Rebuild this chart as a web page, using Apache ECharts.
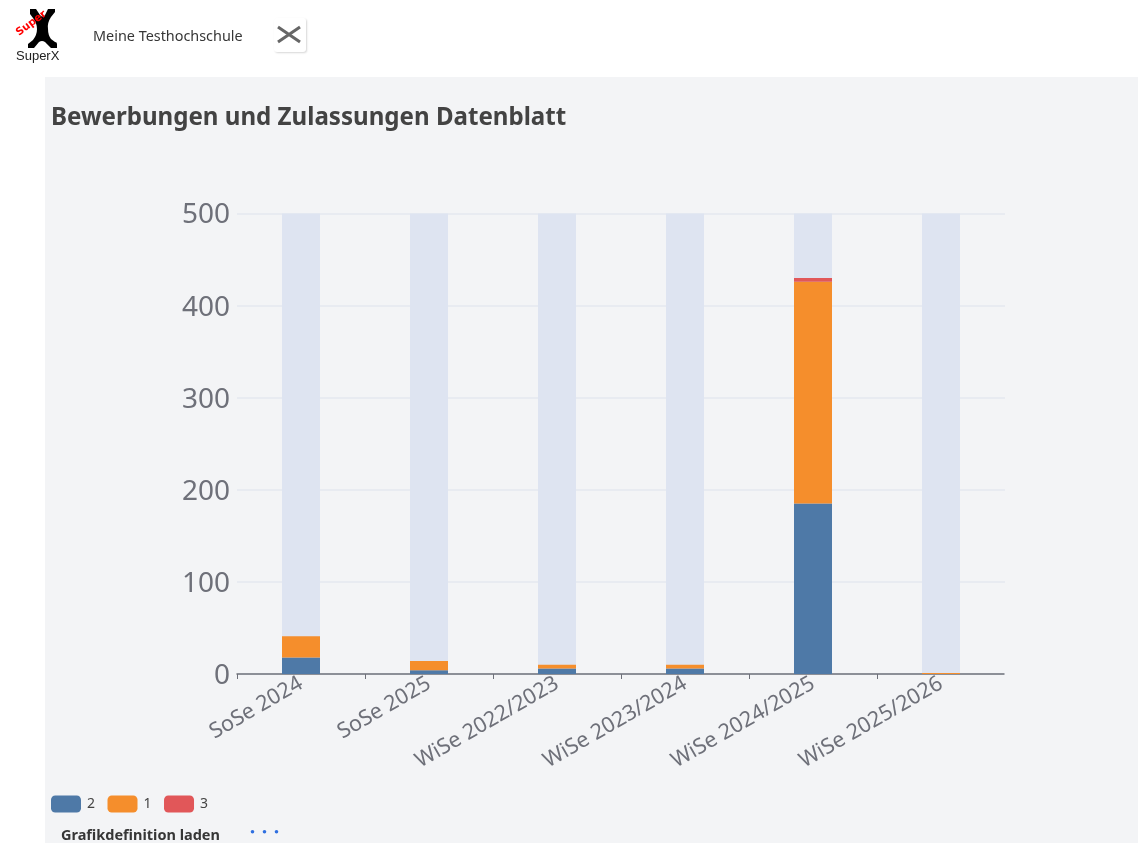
<!DOCTYPE html>
<html><head><meta charset="utf-8">
<script src="https://cdn.jsdelivr.net/npm/echarts@6/dist/echarts.min.js"></script>
<style>
html,body{margin:0;padding:0;background:#fff;overflow:hidden;font-family:"Noto Sans",sans-serif}
#panel{position:absolute;left:45px;top:77px;width:1093px;height:766px;background:#f3f4f6}
#chart{position:absolute;left:0;top:0;width:1138px;height:843px}
#school{position:absolute;left:93px;top:26px;font-size:14.4px;line-height:19px;color:#363636}
#btn{position:absolute;left:274px;top:18px;width:32px;height:34px;background:#fff;border-radius:3px;box-shadow:1px 1px 2px rgba(0,0,0,.16)}
#logo{position:absolute;left:15px;top:7px}
#load{position:absolute;left:61px;top:825px;font-size:14.5px;line-height:19px;font-weight:700;color:#363636}
#dots{position:absolute;left:250px;top:829px;width:30px;height:6px}
</style></head><body>
<div id="panel"></div>
<div id="chart"></div>
<svg id="logo" width="48" height="58" viewBox="0 0 48 58">
<path d="M15 2h6l4 6q3 3 5 0l3-6h7v3l-4 5q-4 6-3 12q0 6 3 10l4 3q2 0 2 2v4h-6l-6-6q-3-2-6 0l-5 6h-6v-4l5-4q4-5 4-11q0-6-4-11l-3-4z" fill="#000"/>
<text transform="translate(4,29) rotate(-37)" font-family="DejaVu Sans" font-weight="700" font-size="10.5" fill="#f00">Super</text>
<text x="1" y="53" font-family="Liberation Sans" font-size="13" fill="#222">SuperX</text>
</svg>
<div id="school">Meine Testhochschule</div>
<div id="btn"><svg width="32" height="34" viewBox="0 0 32 34"><path d="M4 9l22 15M4 24l22-15" stroke="#666" stroke-width="3" fill="none"/></svg></div>
<div id="load">Grafikdefinition laden</div>
<svg id="dots" viewBox="0 0 30 6"><circle cx="2.5" cy="2.7" r="1.8" fill="#2f6fe0"/><circle cx="14.5" cy="2.7" r="1.8" fill="#2f6fe0"/><circle cx="26.5" cy="2.7" r="1.8" fill="#2f6fe0"/></svg>
<script>
const categories = ["SoSe 2024","SoSe 2025","WiSe 2022/2023","WiSe 2023/2024","WiSe 2024/2025","WiSe 2025/2026"];
const seriesNames = ["2","1","3"];
const values2 = [18,4,6,6,185,0];
const values1 = [23,10,4,4,241,1];
const values3 = [0,0,0,0,4,0];
const yTicks = [0,100,200,300,400,500];
const colors = ["#4e79a7","#f58e2c","#e15759"];
const chart = echarts.init(document.getElementById('chart'), null, {renderer:'canvas'});
const F = '"Noto Sans", sans-serif';
function ser(name, data, color, bg){
  return {name, type:'bar', stack:'t', data, barWidth:38, itemStyle:{color},
    showBackground:bg, backgroundStyle:{color:'#dee4f1'}};
}
chart.setOption({
  animation:false,
  backgroundColor:'transparent',
  title:{text:'Bewerbungen und Zulassungen Datenblatt', left:46, top:101,
    textStyle:{fontFamily:F, fontSize:24.1, fontWeight:700, color:'#434343'}},
  grid:{left:237, right:133, top:213.5, bottom:169, containLabel:false},
  legend:{left:46, top:790.5, itemWidth:30, itemHeight:17, itemGap:12.5, icon:'roundRect',
    data:seriesNames, textStyle:{fontFamily:F, fontSize:14, color:'#444', padding:[0,0,0,1]}},
  xAxis:{type:'category', data:categories, z:1,
    axisLine:{lineStyle:{color:'#6e7079', width:1.5}},
    axisTick:{show:true, alignWithLabel:false, length:5, lineStyle:{color:'#6e7079'}},
    axisLabel:{rotate:30, fontFamily:F, fontSize:21.5, color:'#6e7079', margin:8, interval:0}},
  yAxis:{type:'value', min:yTicks[0], max:yTicks[yTicks.length-1], interval:100,
    axisLine:{show:false}, axisTick:{show:false},
    splitLine:{lineStyle:{color:'#e4e8ef', width:1.5}},
    axisLabel:{fontFamily:F, fontSize:28, color:'#6e7079', margin:7, verticalAlign:'top', lineHeight:4}},
  graphic:[{type:'rect', z:100, silent:true, shape:{x:1004.5, y:673, width:3, height:10}, style:{fill:'#f3f4f6'}}],
  series:[ser(seriesNames[0],values2,colors[0],true),ser(seriesNames[1],values1,colors[1],false),ser(seriesNames[2],values3,colors[2],false)]
});
</script>
</body></html>
